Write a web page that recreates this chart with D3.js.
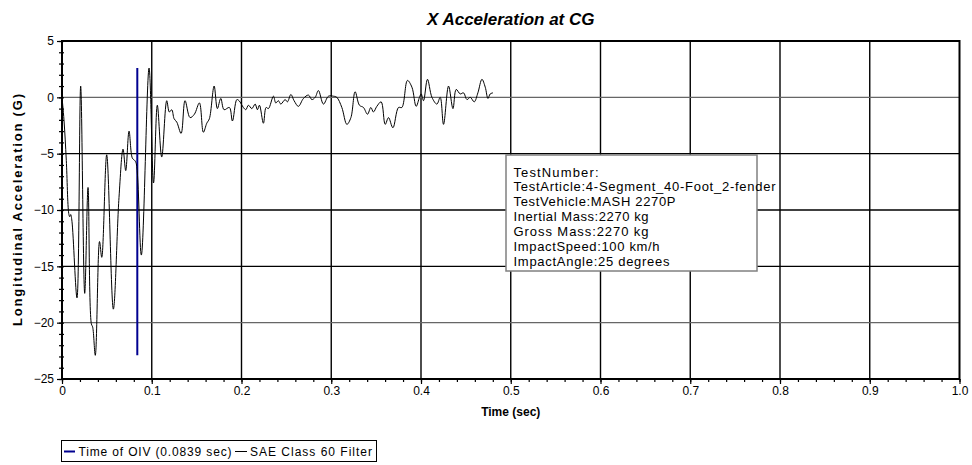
<!DOCTYPE html>
<html>
<head>
<meta charset="utf-8">
<script src="https://cdn.jsdelivr.net/npm/d3@7"></script>
<style>
  html, body { margin: 0; padding: 0; background: #fff; }
  svg { display: block; font-family: "Liberation Sans", Arial, sans-serif; }
</style>
</head>
<body>
<svg id="chart" width="972" height="465"></svg>
<script>
// ---- data ----
const timeSec = [0,0.0022,0.0048,0.0075,0.0086,0.0097,0.0111,0.0167,0.0208,0.0253,0.029,0.0327,0.0342,0.0371,0.0418,0.0443,0.0498,0.0572,0.0635,0.068,0.071,0.0747,0.0784,0.081,0.0828,0.0884,0.097,0.102,0.1062,0.1111,0.1167,0.1196,0.1223,0.1249,0.1279,0.1327,0.1371,0.1427,0.1475,0.1531,0.1575,0.1613,0.1642,0.1695,0.1731,0.1769,0.1806,0.1865,0.1899,0.1948,0.1973,0.2021,0.2048,0.2077,0.2115,0.2152,0.2177,0.22,0.2244,0.2274,0.23,0.2356,0.2382,0.2411,0.2438,0.2486,0.2512,0.255,0.2586,0.2634,0.269,0.2746,0.2784,0.2821,0.2857,0.2913,0.2969,0.3025,0.3062,0.3118,0.3174,0.3219,0.3266,0.3314,0.3359,0.3404,0.3441,0.347,0.3508,0.3556,0.3601,0.3638,0.3687,0.3749,0.3787,0.3849,0.3899,0.3946,0.3983,0.4002,0.4028,0.4072,0.4122,0.4177,0.4214,0.4251,0.4307,0.4356,0.4392,0.4437,0.4474,0.4512,0.4549,0.4593,0.4634,0.4679,0.4716,0.4746,0.4771,0.4802];
const accelG = [0,-2,-5.6,-10.3,-10.6,-10.4,-11,-17.8,1.0,-17.4,-8,-20.1,-20.4,-22.9,-12.8,-14.2,-5.1,-18.8,-8.9,-4.6,-6.5,-3.0,-5.4,-5.6,-5.9,-14.0,2.6,-7.6,-0.7,-5.3,-0.3,-1.3,-1.1,-1.9,-2.2,-3.2,-0.3,-1.8,-1.5,-0.5,-3.1,-2.3,-1.9,1.0,-1.0,-0.1,-1.1,-0.9,-2.1,-0.2,-0.3,-0.9,-1.1,-0.7,-1.0,-0.6,-1.1,-0.7,-2.3,-0.9,-1.0,0.1,-0.5,-0.3,-0.6,-0.2,-0.4,0.25,-0.3,-0.8,-0.1,0.2,-0.2,0,0.6,-0.6,0.1,0.1,0,-0.9,-2.4,-1.8,0.5,-0.7,-0.9,-1.5,-0.9,-1.3,-0.8,-0.4,-2.4,-1.8,-2.7,-0.9,-0.9,1.5,0.9,-0.8,0,0.3,-0.3,1.6,0,-0.6,0,-2.4,1.0,-1.0,0.7,0.3,0.4,-0.2,0,-0.4,0.4,1.6,0.9,-0.1,0.3,0.4];
const oivTime = 0.0839;
const xTicks = [0,0.1,0.2,0.3,0.4,0.5,0.6,0.7,0.8,0.9,1.0];
const xTickLabels = ["0","0.1","0.2","0.3","0.4","0.5","0.6","0.7","0.8","0.9","1.0"];
const yTicks = [5,0,-5,-10,-15,-20,-25];
const infoLines = ["TestNumber:","TestArticle:4-Segment_40-Foot_2-fender","TestVehicle:MASH 2270P","Inertial Mass:2270 kg","Gross Mass:2270 kg","ImpactSpeed:100 km/h","ImpactAngle:25 degrees"];
const infoWidths = [85,262,162,135,135,146,156];
const legendLabels = ["Time of OIV (0.0839 sec)","SAE Class 60 Filter"];
const legendWidths = [153,122];

// ---- layout ----
const svg = d3.select("#chart");
const L = 62, R = 959.5, T = 41, B = 379;
const x = d3.scaleLinear().domain([0,1]).range([L,R]);
const y = d3.scaleLinear().domain([-25,5]).range([B,T]);

// grid
const g = svg.append("g");
g.selectAll(".vg").data(xTicks.filter(v=>v>0 && v<1)).join("line")
  .attr("x1",d=>x(d)).attr("x2",d=>x(d)).attr("y1",T).attr("y2",B)
  .attr("stroke","#000").attr("stroke-width",1.4);
g.selectAll(".hg").data(yTicks.filter(v=>v<5 && v>-25)).join("line")
  .attr("x1",L).attr("x2",R).attr("y1",d=>y(d)).attr("y2",d=>y(d))
  .attr("stroke",d=>d===0||d===-20?"#666":"#000").attr("stroke-width",1.4);

// axes with minor ticks
const yMinor = d3.range(-25,6,1);
svg.append("g").attr("transform",`translate(${L},0)`)
  .call(d3.axisLeft(y).tickValues(yMinor).tickSize(3).tickFormat(""))
  .call(a=>a.select(".domain").remove())
  .call(a=>a.selectAll("line").attr("stroke","#000").attr("stroke-width",1.2).attr("x2",-3).attr("x1",2));
svg.append("g").attr("transform",`translate(${L},0)`)
  .call(d3.axisLeft(y).tickValues(yTicks).tickSize(5).tickPadding(3).tickFormat(d3.format("d")))
  .call(a=>a.select(".domain").remove())
  .call(a=>a.selectAll("line").attr("stroke","#000").attr("stroke-width",1.2))
  .call(a=>a.selectAll("text").attr("font-size",12).attr("fill","#000")
     .attr("font-family","'Liberation Sans', Arial, sans-serif"));

const xMinor = d3.range(0,1.0001,0.02);
svg.append("g").attr("transform",`translate(0,${B})`)
  .call(d3.axisBottom(x).tickValues(xMinor).tickSize(3).tickFormat(""))
  .call(a=>a.select(".domain").remove())
  .call(a=>a.selectAll("line").attr("stroke","#000").attr("stroke-width",1.2));
svg.append("g").attr("transform",`translate(0,${B})`)
  .call(d3.axisBottom(x).tickValues(xTicks).tickSize(5).tickPadding(2).tickFormat((d,i)=>xTickLabels[i]))
  .call(a=>a.select(".domain").remove())
  .call(a=>a.selectAll("line").attr("stroke","#000").attr("stroke-width",1.2))
  .call(a=>a.selectAll("text").attr("font-size",12).attr("fill","#000")
     .attr("font-family","'Liberation Sans', Arial, sans-serif"));

// frame
svg.append("rect").attr("x",L).attr("y",T).attr("width",R-L).attr("height",B-T)
  .attr("fill","none").attr("stroke","#000").attr("stroke-width",2);

// OIV line
const yMax = d3.max(accelG), yMin = d3.min(accelG);
svg.append("line").attr("x1",x(oivTime)).attr("x2",x(oivTime))
  .attr("y1",y(yMax)).attr("y2",y(yMin))
  .attr("stroke","#000090").attr("stroke-width",2);

// data curve
const pts = timeSec.map((t,i)=>[t,accelG[i]]);
svg.append("path").datum(pts)
  .attr("d",d3.line().x(d=>x(d[0])).y(d=>y(d[1])).curve(d3.curveCatmullRom.alpha(0.5)))
  .attr("fill","none").attr("stroke","#000").attr("stroke-width",1);

// info box
svg.append("rect").attr("x",506).attr("y",155).attr("width",251).attr("height",116)
  .attr("fill","#fff").attr("stroke","#808080").attr("stroke-width",1.5);
svg.append("g").selectAll("text").data(infoLines).join("text")
  .attr("x",513.5).attr("y",(d,i)=>176.5+i*14.85)
  .attr("font-size",13).attr("fill","#000")
  .attr("textLength",(d,i)=>infoWidths[i]).attr("lengthAdjust","spacing")
  .text(d=>d);

// titles
svg.append("text").attr("x",(L+R)/2).attr("y",25).attr("text-anchor","middle")
  .attr("font-size",17).attr("font-weight","bold").attr("font-style","italic")
  .text("X Acceleration at CG");
svg.append("text").attr("transform",`translate(22,${(T+B)/2}) rotate(-90)`)
  .attr("text-anchor","middle").attr("font-size",13).attr("font-weight","bold")
  .attr("textLength",232).attr("lengthAdjust","spacing")
  .text("Longitudinal Acceleration (G)");
svg.append("text").attr("x",(L+R)/2).attr("y",416).attr("text-anchor","middle")
  .attr("font-size",12).attr("font-weight","bold")
  .text("Time (sec)");

// legend
const lg = svg.append("g");
lg.append("rect").attr("x",61.5).attr("y",440.5).attr("width",315).attr("height",21)
  .attr("fill","#fff").attr("stroke","#000").attr("stroke-width",1);
lg.append("line").attr("x1",64).attr("x2",75).attr("y1",451.5).attr("y2",451.5)
  .attr("stroke","#000090").attr("stroke-width",2);
lg.append("text").attr("x",78.5).attr("y",455.5).attr("font-size",12)
  .attr("textLength",legendWidths[0]).attr("lengthAdjust","spacing").text(legendLabels[0]);
lg.append("line").attr("x1",235).attr("x2",247).attr("y1",451.5).attr("y2",451.5)
  .attr("stroke","#000").attr("stroke-width",1);
lg.append("text").attr("x",250).attr("y",455.5).attr("font-size",12)
  .attr("textLength",legendWidths[1]).attr("lengthAdjust","spacing").text(legendLabels[1]);
</script>
</body>
</html>
